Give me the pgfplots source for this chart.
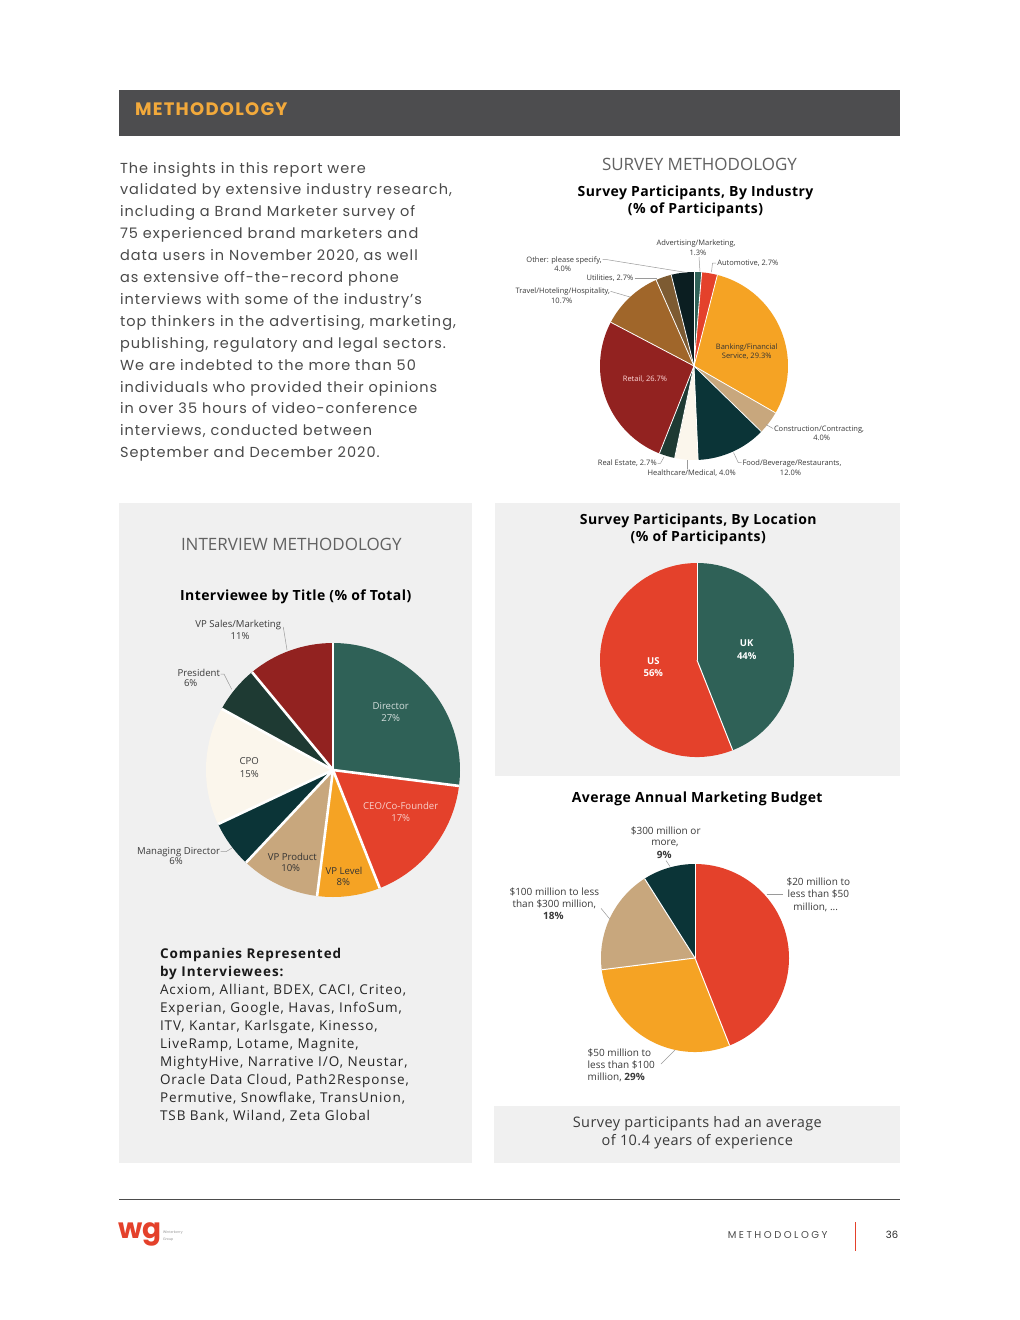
\documentclass[border=0pt]{standalone}
\usepackage{pgfplots}
\pgfplotsset{compat=1.18}
\usepackage{pgfplotstable}
\usepackage{fontspec}
\setmainfont{Open Sans}
\newfontfamily\pop{Poppins}[LetterSpace=7]
\newfontfamily\popplain{Poppins}
\newfontfamily\popsp{Poppins}[LetterSpace=25]
\newfontfamily\ossp{Open Sans}[LetterSpace=7]
\newfontfamily\osti{Open Sans}[LetterSpace=3]

\definecolor{cTeal}{HTML}{2F6157}
\definecolor{cRed}{HTML}{E4412B}
\definecolor{cOrange}{HTML}{F5A324}
\definecolor{cTan}{HTML}{C8A77D}
\definecolor{cDark}{HTML}{0B3437}
\definecolor{cCream}{HTML}{FBF6EC}
\definecolor{cGreen}{HTML}{1E3A33}
\definecolor{cMaroon}{HTML}{922220}
\definecolor{cBrown}{HTML}{A0662A}
\definecolor{cUtil}{HTML}{7D5B32}
\definecolor{cBlack}{HTML}{0B1E21}
\definecolor{boxgray}{HTML}{F0F0F0}
\definecolor{barcol}{HTML}{4D4D4F}
\definecolor{hdr}{HTML}{F2A93B}
\definecolor{txt}{HTML}{3A3A3A}
\definecolor{para}{HTML}{4A4A4A}
\definecolor{lead}{HTML}{9A9A9A}

% slice shares, clockwise from 12 o'clock
\pgfplotstableread{
v c
1.3 cTeal
2.7 cRed
29.3 cOrange
4.0 cTan
12.0 cDark
4.0 cCream
2.7 cGreen
26.7 cMaroon
10.7 cBrown
2.7 cUtil
4.0 cBlack
}\industry

\pgfplotstableread{
v c
27 cTeal
17 cRed
8 cOrange
10 cTan
6 cDark
15 cCream
6 cGreen
11 cMaroon
}\titles

\pgfplotstableread{
v c
44 cTeal
56 cRed
}\location

\pgfplotstableread{
v c
44 cRed
29 cOrange
18 cTan
9 cDark
}\budget

% #1 table, #2 radius, #3 white gap
\newcommand\pieslices[3]{%
  \pgfplotstablegetrowsof{#1}%
  \pgfmathtruncatemacro\lastrow{\pgfplotsretval-1}%
  \xdef\curang{90}%
  \foreach \i in {0,...,\lastrow}{%
    \pgfplotstablegetelem{\i}{v}\of{#1}\let\sliceval\pgfplotsretval
    \pgfplotstablegetelem{\i}{c}\of{#1}\let\slicecol\pgfplotsretval
    \pgfmathsetmacro\endang{\curang-3.6*\sliceval}%
    \fill[fill=\slicecol] (axis cs:0,0) -- (axis cs:{#2*cos(\curang)},{#2*sin(\curang)})
      arc[start angle=\curang,end angle=\endang,radius=#2pt] -- cycle;
    \xdef\curang{\endang}%
  }%
  \xdef\curang{90}%
  \foreach \i in {0,...,\lastrow}{%
    \pgfplotstablegetelem{\i}{v}\of{#1}\let\sliceval\pgfplotsretval
    \draw[white,line width=#3] (axis cs:0,0) -- (axis cs:{#2*cos(\curang)},{#2*sin(\curang)});
    \pgfmathsetmacro\endang{\curang-3.6*\sliceval}%
    \xdef\curang{\endang}%
  }%
}

\pgfplotsset{pie/.style={anchor=center,x=1pt,y=1pt,xmin=-#1,xmax=#1,ymin=-#1,ymax=#1,hide axis,clip=false}}

\begin{document}
\begin{tikzpicture}[x=1pt,y=-1pt,every node/.style={inner sep=0pt,outer sep=0pt},
  lbl/.style={text=txt,font=\fontsize{9.6}{11}\selectfont,anchor=mid},
  tiny/.style={text=txt,font=\fontsize{7.5}{9}\selectfont,anchor=mid},
  bud/.style={text=txt,font=\fontsize{10}{12}\selectfont,anchor=mid},
  ttl/.style={text=black,font=\osti\bfseries\fontsize{14}{16}\selectfont,anchor=mid},
  sec/.style={text=black!62,font=\fontsize{17}{19}\selectfont,anchor=mid},
  ld/.style={draw=lead,line width=0.5pt}]

\fill[white] (0,0) rectangle (1020,1320);
\coordinate (pInd) at (694,366);
\coordinate (pTit) at (333,770);
\coordinate (pLoc) at (697,660);
\coordinate (pBud) at (695,958);

% header
\fill[barcol] (119,90) rectangle (900,135.5);
\node[anchor=mid west,text=hdr,font={\pop\bfseries\fontsize{18}{20}\selectfont}] at (135,112.5) {METHODOLOGY};

% intro text
\foreach \t [count=\k from 0] in {The insights in this report were,
  {validated by extensive industry research,},
  including a Brand Marketer survey of,
  75 experienced brand marketers and,
  {data users in November 2020, as well},
  as extensive off-the-record phone,
  interviews with some of the industry’s,
  {top thinkers in the advertising, marketing,},
  {publishing, regulatory and legal sectors.},
  We are indebted to the more than 50,
  individuals who provided their opinions,
  in over 35 hours of video-conference,
  {interviews, conducted between},
  September and December 2020.}
  \node[anchor=base west,text=para,font={\pop\fontsize{14.5}{22}\selectfont}] at (120,{173+21.9*\k}) {\t};

% gray panels
\fill[boxgray] (119,503) rectangle (471.5,1162.5);
\fill[boxgray] (495,503) rectangle (900,776);
\fill[boxgray] (494,1106) rectangle (900,1162.5);

% ---------- survey by industry ----------
\node[sec] at (699.5,167.5) {SURVEY METHODOLOGY};
\node[ttl] at (695.5,193.5) {Survey Participants, By Industry};
\node[ttl] at (695.5,211) {(\% of Participants)};

\begin{axis}[pie=94,at={(pInd)}]
  \pgfplotsextra{\pieslices{\industry}{94}{0.8pt}}
\end{axis}

\node[tiny] at (696,243.3) {Advertising/Marketing,};
\node[tiny] at (698,253.3) {1.3\%};
\draw[ld] (699,257) -- (700,271.5);
\node[tiny,anchor=mid west] at (717.3,262.7) {Automotive, 2.7\%};
\draw[ld] (716,263) -- (712.5,263) -- (711.5,272);
\node[tiny,text=black!80] at (746.7,346.7) {Banking/Financial};
\node[tiny,text=black!80] at (746.7,355.5) {Service, 29.3\%};
\node[tiny,text=red!15] at (645,379.3) {Retail, 26.7\%};
\node[tiny,anchor=mid west] at (774,429.3) {Construction/Contracting,};
\node[tiny] at (821.7,438.3) {4.0\%};
\draw[ld] (773,428.5) -- (766,424.5);
\node[tiny,anchor=mid west] at (742.5,462.7) {Food/Beverage/Restaurants,};
\node[tiny] at (790.5,472.7) {12.0\%};
\draw[ld] (733.5,452.5) -- (738.3,462.7) -- (741.5,462.7);
\node[tiny] at (691.7,472.7) {Healthcare/Medical, 4.0\%};
\draw[ld] (687.7,460) -- (687.7,468.5);
\node[tiny,anchor=mid east] at (656.7,463.3) {Real Estate, 2.7\%};
\draw[ld] (657.5,463.3) -- (660.5,463.3) -- (664,457);
\node[tiny,anchor=mid east] at (610,290.7) {Travel/Hoteling/Hospitality,};
\node[tiny] at (561.7,300.7) {10.7\%};
\draw[ld] (610.5,291.3) -- (630,297);
\node[tiny,anchor=mid east] at (633.3,278.3) {Utilities, 2.7\%};
\draw[ld] (634.5,278.3) -- (657,278.3);
\node[tiny,anchor=mid east] at (601.7,260) {Other: please specify,};
\node[tiny] at (562.7,268.7) {4.0\%};
\draw[ld] (602.5,259.5) -- (606,259.5) -- (686.5,272.5);

% ---------- interview by title ----------
\node[sec,anchor=mid west] at (181,547.7) {INTERVIEW METHODOLOGY};
\node[ttl] at (295.7,597.7) {Interviewee by Title (\% of Total)};

\begin{axis}[pie=127,at={(pTit)}]
  \pgfplotsextra{\pieslices{\titles}{127}{2.6pt}}
\end{axis}

\node[lbl] at (238.3,625.3) {VP Sales/Marketing};
\node[lbl] at (240,636.7) {11\%};
\draw[ld] (283.3,627) -- (287,650);
\node[lbl,anchor=mid east] at (220,674) {President};
\node[lbl] at (190.7,684.3) {6\%};
\draw[ld] (220.5,674) -- (224,674) -- (231.7,689.3);
\node[lbl,text=white!80!cTeal] at (390.7,706.7) {Director};
\node[lbl,text=white!80!cTeal] at (390.7,719) {27\%};
\node[lbl] at (249.3,762.3) {CPO};
\node[lbl] at (249.3,775) {15\%};
\node[lbl,text=white!75!cRed] at (400.7,807.3) {CEO/Co-Founder};
\node[lbl,text=white!75!cRed] at (400.7,819.3) {17\%};
\node[lbl,anchor=mid east] at (220,851.7) {Managing Director};
\node[lbl] at (176,862) {6\%};
\draw[ld] (220.5,851.7) -- (226,851.7) -- (232,848);
\node[lbl,text=black!80] at (292.3,857.7) {VP Product};
\node[lbl,text=black!80] at (290.7,869.3) {10\%};
\node[lbl,text=black!80] at (344,871.7) {VP Level};
\node[lbl,text=black!80] at (343.3,883.3) {8\%};

% companies
\node[anchor=mid west,text=black!90,font={\ossp\bfseries\fontsize{13.5}{15}\selectfont}] at (160,956) {Companies Represented};
\node[anchor=mid west,text=black!90,font={\ossp\bfseries\fontsize{13.5}{15}\selectfont}] at (160,974) {by Interviewees:};
\foreach \t [count=\k from 0] in {{Acxiom, Alliant, BDEX, CACI, Criteo,},
  {Experian, Google, Havas, InfoSum,},
  {ITV, Kantar, Karlsgate, Kinesso,},
  {LiveRamp, Lotame, Magnite,},
  {MightyHive, Narrative I/O, Neustar,},
  {Oracle Data Cloud, Path2Response,},
  {Permutive, Snowflake, TransUnion,},
  {TSB Bank, Wiland, Zeta Global}}
  \node[anchor=mid west,text=black!85,font={\ossp\fontsize{13.5}{15}\selectfont}] at (160,{992+18*\k}) {\t};

% ---------- survey by location ----------
\node[ttl] at (698.3,522.3) {Survey Participants, By Location};
\node[ttl] at (698.3,539.3) {(\% of Participants)};

\begin{axis}[pie=97,at={(pLoc)}]
  \pgfplotsextra{\pieslices{\location}{97}{1pt}}
\end{axis}

\node[lbl,text=white,font=\bfseries\fontsize{9.5}{11}\selectfont] at (746.7,644.3) {UK};
\node[lbl,text=white,font=\bfseries\fontsize{9.5}{11}\selectfont] at (746.7,657.3) {44\%};
\node[lbl,text=white,font=\bfseries\fontsize{9.5}{11}\selectfont] at (653.3,661.7) {US};
\node[lbl,text=white,font=\bfseries\fontsize{9.5}{11}\selectfont] at (653.3,674.3) {56\%};

% ---------- budget ----------
\node[ttl] at (697.2,800) {Average Annual Marketing Budget};

\begin{axis}[pie=94,at={(pBud)}]
  \pgfplotsextra{\pieslices{\budget}{94}{1pt}}
\end{axis}

\node[bud] at (665.7,831.7) {\$300 million or};
\node[bud] at (665,843.3) {more,};
\node[bud] at (664.3,855.7) {\textbf{9\%}};
\draw[ld] (666,860.5) -- (670,866.5);
\node[bud] at (818.3,882.7) {\$20 million to};
\node[bud] at (818.3,894.7) {less than \$50};
\node[bud] at (815.7,907.7) {million, ...};
\draw[ld] (766.7,894.3) -- (783.3,894.3);
\node[bud] at (554.3,892.7) {\$100 million to less};
\node[bud] at (554.3,904.7) {than \$300 million,};
\node[bud] at (553.3,917.3) {\textbf{18\%}};
\draw[ld] (601,908.3) -- (610,919.3);
\node[bud,anchor=mid west] at (587.7,1054) {\$50 million to};
\node[bud,anchor=mid west] at (587.7,1065.7) {less than \$100};
\node[bud,anchor=mid west] at (587.7,1077.7) {million, \textbf{29\%}};
\draw[ld] (661,1064) -- (675,1050);

% experience box
\node[anchor=mid,text=txt,font={\osti\fontsize{14.5}{16}\selectfont}] at (697.3,1125) {Survey participants had an average};
\node[anchor=mid,text=txt,font={\osti\fontsize{14.5}{16}\selectfont}] at (697.3,1142.5) {of 10.4 years of experience};

% footer
\draw[black!70,line width=0.8pt] (119,1199.3) -- (900,1199.3);
\node[anchor=mid west,text=cRed,font={\popplain\bfseries\fontsize{28}{28}\selectfont}] at (118,1236) {wg};
\node[anchor=mid west,text=black!45,font=\fontsize{3.5}{4}\selectfont] at (163,1231) {Winterberry};
\node[anchor=mid west,text=black!45,font=\fontsize{3.5}{4}\selectfont] at (163,1238) {Group};
\node[anchor=mid east,text=black!70,font={\popsp\fontsize{10}{12}\selectfont}] at (827.5,1236) {METHODOLOGY};
\draw[cRed,line width=0.8pt] (855.5,1222) -- (855.5,1251);
\node[anchor=mid,text=black!85,font={\popplain\fontsize{10}{12}\selectfont}] at (892,1236) {36};
\end{tikzpicture}
\end{document}
